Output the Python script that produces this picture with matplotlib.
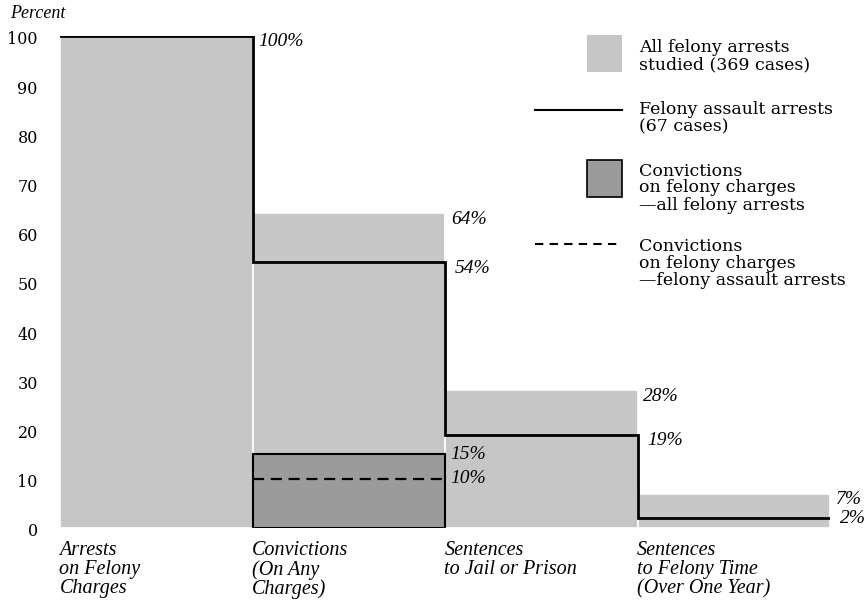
import matplotlib
matplotlib.use("Agg")
import matplotlib.pyplot as plt
import matplotlib.transforms as mtransforms
from matplotlib.patches import Rectangle
from matplotlib.lines import Line2D

# ---- data ----
stages = ["Arrests\non Felony\nCharges",
          "Convictions\n(On Any\nCharges)",
          "Sentences\nto Jail or Prison",
          "Sentences\nto Felony Time\n(Over One Year)"]
all_felony = [100, 64, 28, 7]          # all felony arrests studied (369 cases)
assault = [100, 54, 19, 2]             # felony assault arrests (67 cases)
conv_felony_all = 15                   # convictions on felony charges - all felony arrests
conv_felony_assault = 10               # convictions on felony charges - felony assault arrests
conv_stage = 1
yticks = [0, 10, 20, 30, 40, 50, 60, 70, 80, 90, 100]

LIGHT = "#c6c6c6"
DARK = "#9b9b9b"
SERIF = "DejaVu Serif"
ITAL = "Liberation Serif"

W, H = 868, 606
fig = plt.figure(figsize=(W / 100, H / 100), dpi=100)
ax = fig.add_axes([60 / W, 1 - 528 / H, (830 - 60) / W, (528 - 36) / H])

n = len(stages)
x = list(range(n))
ax.bar(x, all_felony, width=1, align="edge", color=LIGHT,
       edgecolor="white", linewidth=1.2, zorder=1)
# darker box: convictions on felony charges, all felony arrests
ax.bar([conv_stage], [conv_felony_all], width=1, align="edge", color=DARK,
       edgecolor="black", linewidth=1.5, zorder=2)
# dashed: convictions on felony charges, felony assault arrests
ax.plot([conv_stage, conv_stage + 1], [conv_felony_assault] * 2,
        color="black", linestyle=(0, (5, 3)), linewidth=1.6, zorder=3)
# step line for felony assault arrests
edges = list(range(n + 1))
ax.step(edges, assault + [assault[-1]], where="post", color="black",
        linewidth=2.0, zorder=4, solid_joinstyle="miter")

ax.set_xlim(0, n)
ax.set_ylim(0, 100)
for s in ax.spines.values():
    s.set_visible(False)
ax.set_xticks([])
ax.set_yticks(yticks)
ax.set_yticklabels([str(v) for v in yticks], family=SERIF, fontsize=11.5)
ax.tick_params(axis="y", length=0, pad=16)
offset = mtransforms.ScaledTranslation(0, -4 / 100, fig.dpi_scale_trans)
for lab in ax.get_yticklabels():
    lab.set_verticalalignment("center")
    lab.set_transform(lab.get_transform() + offset)

# percentage annotations
pct_kw = dict(family=ITAL, style="italic", fontsize=14, va="center",
              ha="left", clip_on=False)
for i in range(n):
    ax.text(i + 1 + 0.03, all_felony[i] - 1.2, f"{all_felony[i]}%", **pct_kw)
    if assault[i] != all_felony[i]:
        dy = -1.2 if i < n - 1 else 0
        ax.text(i + 1 + 0.05, assault[i] + dy, f"{assault[i]}%", **pct_kw)
ax.text(conv_stage + 1 + 0.03, conv_felony_all, f"{conv_felony_all}%", **pct_kw)
ax.text(conv_stage + 1 + 0.03, conv_felony_assault, f"{conv_felony_assault}%", **pct_kw)

# stage labels
for i, s in enumerate(stages):
    ax.text(i - 0.003, -2.6, s, family=ITAL, style="italic", fontsize=14.5,
            va="top", ha="left", linespacing=1.0, clip_on=False)

fig.text(10 / W, 1 - 14 / H, "Percent", family=ITAL, style="italic",
         fontsize=13, va="center", ha="left")

# legend (drawn manually)
def fx(px):
    return px / W

def fy(py):
    return 1 - py / H

leg_kw = dict(family=SERIF, fontsize=12.5, va="center", ha="left",
              linespacing=1.0)
fig.add_artist(Rectangle((fx(587), fy(72)), fx(622) - fx(587), fy(35) - fy(72),
                         transform=fig.transFigure, facecolor=LIGHT,
                         edgecolor="none"))
fig.text(fx(639), fy(56), "All felony arrests\nstudied (369 cases)", **leg_kw)
fig.add_artist(Line2D([fx(535), fx(622)], [fy(110), fy(110)],
                      transform=fig.transFigure, color="black", linewidth=1.5))
fig.text(fx(639), fy(118), "Felony assault arrests\n(67 cases)", **leg_kw)
fig.add_artist(Rectangle((fx(587), fy(197)), fx(622) - fx(587), fy(160) - fy(197),
                         transform=fig.transFigure, facecolor=DARK,
                         edgecolor="black", linewidth=1.2))
fig.text(fx(639), fy(188), "Convictions\non felony charges\n\u2014all felony arrests", **leg_kw)
fig.add_artist(Line2D([fx(535), fx(622)], [fy(244), fy(244)],
                      transform=fig.transFigure, color="black", linewidth=1.5,
                      linestyle=(0, (4, 3))))
fig.text(fx(639), fy(264), "Convictions\non felony charges\n\u2014felony assault arrests", **leg_kw)

fig.savefig("out.png", dpi=100, facecolor="white")
